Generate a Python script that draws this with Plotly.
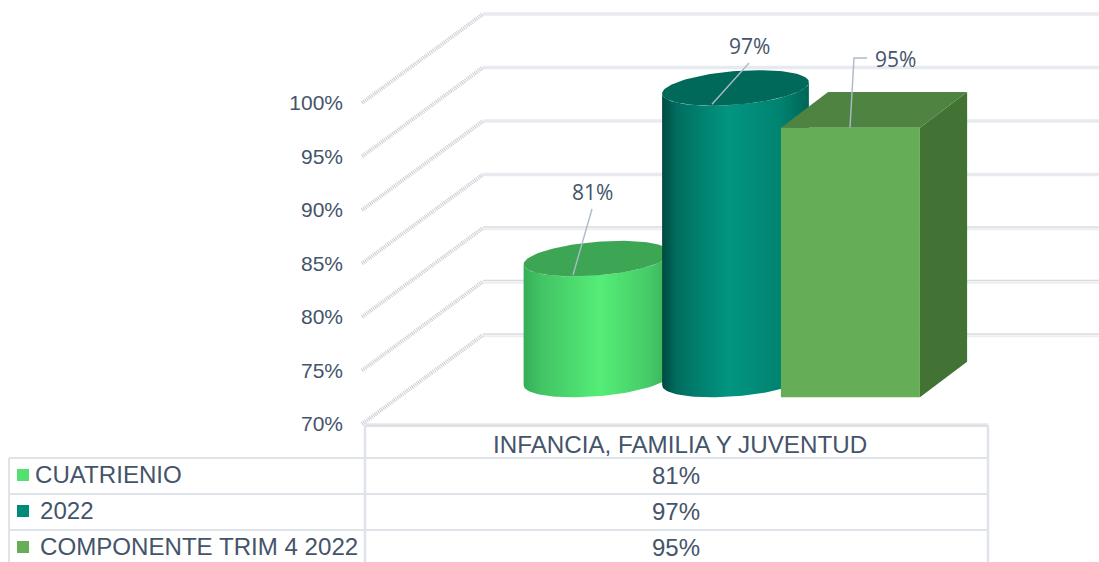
import numpy as np
import plotly.graph_objects as go

# ---- data ----
category = "INFANCIA, FAMILIA Y JUVENTUD"
series_names = ["CUATRIENIO", "2022", "COMPONENTE TRIM 4 2022"]
series_values = [81.3, 97.25, 95.2]
tick_values = [70, 75, 80, 85, 90, 95, 100]
key_colors = ["#52E070", "#008A77", "#66AD58"]

# ---- geometry of the oblique 3D view ----
W, H = 1099, 562
FRONT_X, FRONT_Y = 365, 424        # pixel position of the 70% front corner
DEPTH_X = 118                      # px the floor recedes to the right
PX_PER_PCT = 10.7
DEPTH_V = 89 / PX_PER_PCT          # the same recession, in value units
BAR_HALF_W = 69.5
BAR_DEPTH = 0.4
SLOT_X = [597, 735.5, 874]
TEXT = "#44546A"
LINE = "#DFE3EA"
LEADER = "#ADB9CA"


def val(py):
    """pixel row -> y-axis value (layout helper for text and table rules)"""
    return 70 + (FRONT_Y - py) / PX_PER_PCT


def px_x(x, d):
    return x + DEPTH_X * (d - 0.5)


def pv(v, d):
    return v + DEPTH_V * d


fig = go.Figure()


def poly(xs, ys, color=None, gradient=None, name=None):
    kw = dict(fillgradient=gradient) if gradient else dict(fillcolor=color)
    fig.add_trace(go.Scatter(x=list(xs), y=list(ys), mode="lines", fill="toself",
                             line=dict(width=0, color="rgba(0,0,0,0)"),
                             hoverinfo="skip", showlegend=False, name=name, **kw))


def line(xs, ys, color, width, dash=None):
    fig.add_trace(go.Scatter(x=list(xs), y=list(ys), mode="lines",
                             line=dict(color=color, width=width, dash=dash),
                             hoverinfo="skip", showlegend=False))


# walls: back gridlines and side-wall diagonals
for i, t in enumerate(tick_values):
    back_y = pv(t, 1)
    if t <= 80:
        line([FRONT_X + DEPTH_X, W], [back_y + 0.1] * 2, "#D9DBDF", 1.5)
        line([FRONT_X + DEPTH_X, W], [back_y - 0.12] * 2, "#ECEEF2", 2)
    else:
        line([FRONT_X + DEPTH_X, W], [back_y] * 2, "#E8EAEF", 3.5)
    line([FRONT_X - 3, FRONT_X + DEPTH_X], [t, back_y], "#C9CED3", 4, "1px,1px")

# front floor edge
line([FRONT_X, 988], [70 - 0.02] * 2, "#E6E7EA", 2)
line([FRONT_X, 988], [val(426)] * 2, "#D4D6DA", 1.5)


def cylinder(cx, value, stops, top_color):
    t = np.linspace(0, 2 * np.pi, 121)
    ex = BAR_HALF_W * np.cos(t) + DEPTH_X * BAR_DEPTH / 2 * np.sin(t)
    ev = DEPTH_V * BAR_DEPTH / 2 * np.sin(t)
    low, high = pv(70, 0.5), pv(value, 0.5)
    left = np.argmin(ex[:120])
    right = np.argmax(ex[:120])
    # body: lower half of base ellipse, then upper silhouette via top ellipse
    idx = [(left + k) % 120 for k in range(((right - left) % 120) + 1)]
    bx = cx + ex[idx]
    bv = low + ev[idx]
    tx = cx + ex[idx][::-1]
    tv = high + ev[idx][::-1]
    poly(np.r_[bx, tx], np.r_[bv, tv],
         gradient=dict(type="horizontal", colorscale=stops))
    poly(cx + ex, high + ev, color=top_color)


cylinder(SLOT_X[0], series_values[0],
         [[0, "#35AE57"], [0.12, "#42C464"], [0.52, "#55ED77"], [0.85, "#46CB68"], [1, "#38AE58"]],
         "#3CA655")
cylinder(SLOT_X[1], series_values[1],
         [[0, "#00493F"], [0.1, "#006E60"], [0.45, "#029580"], [0.8, "#008371"], [1, "#006557"]],
         "#00695A")

# box for the third series
cx, v = SLOT_X[2], series_values[2]
d0, d1 = 0.5 - BAR_DEPTH / 2, 0.5 + BAR_DEPTH / 2
xl, xr = cx - BAR_HALF_W, cx + BAR_HALF_W
poly([px_x(xr, d0), px_x(xr, d1), px_x(xr, d1), px_x(xr, d0)],
     [pv(70, d0), pv(70, d1), pv(v, d1), pv(v, d0)], color="#437235")
poly([px_x(xl, d0), px_x(xr, d0), px_x(xr, d1), px_x(xl, d1)],
     [pv(v, d0), pv(v, d0), pv(v, d1), pv(v, d1)], color="#4E8342")
poly([px_x(xl, d0), px_x(xr, d0), px_x(xr, d0), px_x(xl, d0)],
     [pv(70, d0), pv(70, d0), pv(v, d0), pv(v, d0)], color="#66AD58")

# leader lines, starting on each mark's top face
front = pv(0, 0.5) - DEPTH_V * BAR_DEPTH / 2 * 0.92
line([573, 592], [series_values[0] + front, val(209)], LEADER, 1.4)
line([712, 749], [series_values[1] + front, val(63)], LEADER, 1.4)
line([850, 854, 867], [pv(series_values[2], d0), val(58), val(58)], LEADER, 1.4)

# data table rules
for py in (458, 494, 530):
    line([9, 988], [val(py)] * 2, LINE, 2)
line([9, 9], [val(458), val(562)], LINE, 2)
line([365, 365], [val(425), val(562)], LINE, 2.5)
line([988, 988], [val(425), val(562)], LINE, 2.5)

# legend keys
key_rows = [475, 511, 547]
for name, c, py in zip(series_names, key_colors, key_rows):
    fig.add_trace(go.Scatter(x=[23], y=[val(py)], mode="markers", name=name,
                             marker=dict(symbol="square", size=12, color=c),
                             hoverinfo="skip", showlegend=False))


def note(x, py, text, size, anchor="center", family="Liberation Sans"):
    fig.add_annotation(x=x, y=val(py), xref="x", yref="y", text=text, showarrow=False,
                       xanchor=anchor, yanchor="middle",
                       font=dict(family=family, size=size, color=TEXT))


# data labels
for x, py, value in zip([592, 749, 895], [192, 46, 59], series_values):
    note(x, py, f"{value:.0f}%", 21, family="Open Sans")

# table text
note(680, 444, category, 24.2)
for name, x, py, value in zip(series_names, [33, 38, 38], key_rows, series_values):
    note(x, py - 1, name, 24.1, anchor="left")
    note(676, py, f"{value:.0f}%", 24)

fig.update_layout(
    width=W, height=H, margin=dict(l=0, r=0, t=0, b=0),
    paper_bgcolor="white", plot_bgcolor="white", showlegend=False,
    xaxis=dict(range=[0, W], domain=[0, 1], visible=False, fixedrange=True),
    yaxis=dict(range=[val(H), val(0)], domain=[0, 1], anchor="free", position=FRONT_X / W,
               tickmode="array", tickvals=tick_values,
               ticktext=[f"{t}%" for t in tick_values],
               ticklabelstandoff=22, ticks="", showgrid=False, zeroline=False, showline=False,
               tickfont=dict(family="Liberation Sans", size=21, color=TEXT), fixedrange=True),
)
fig.write_html("out.html", config=dict(displayModeBar=False),
               post_script="document.body.style.margin='0';document.body.style.overflow='hidden';")
